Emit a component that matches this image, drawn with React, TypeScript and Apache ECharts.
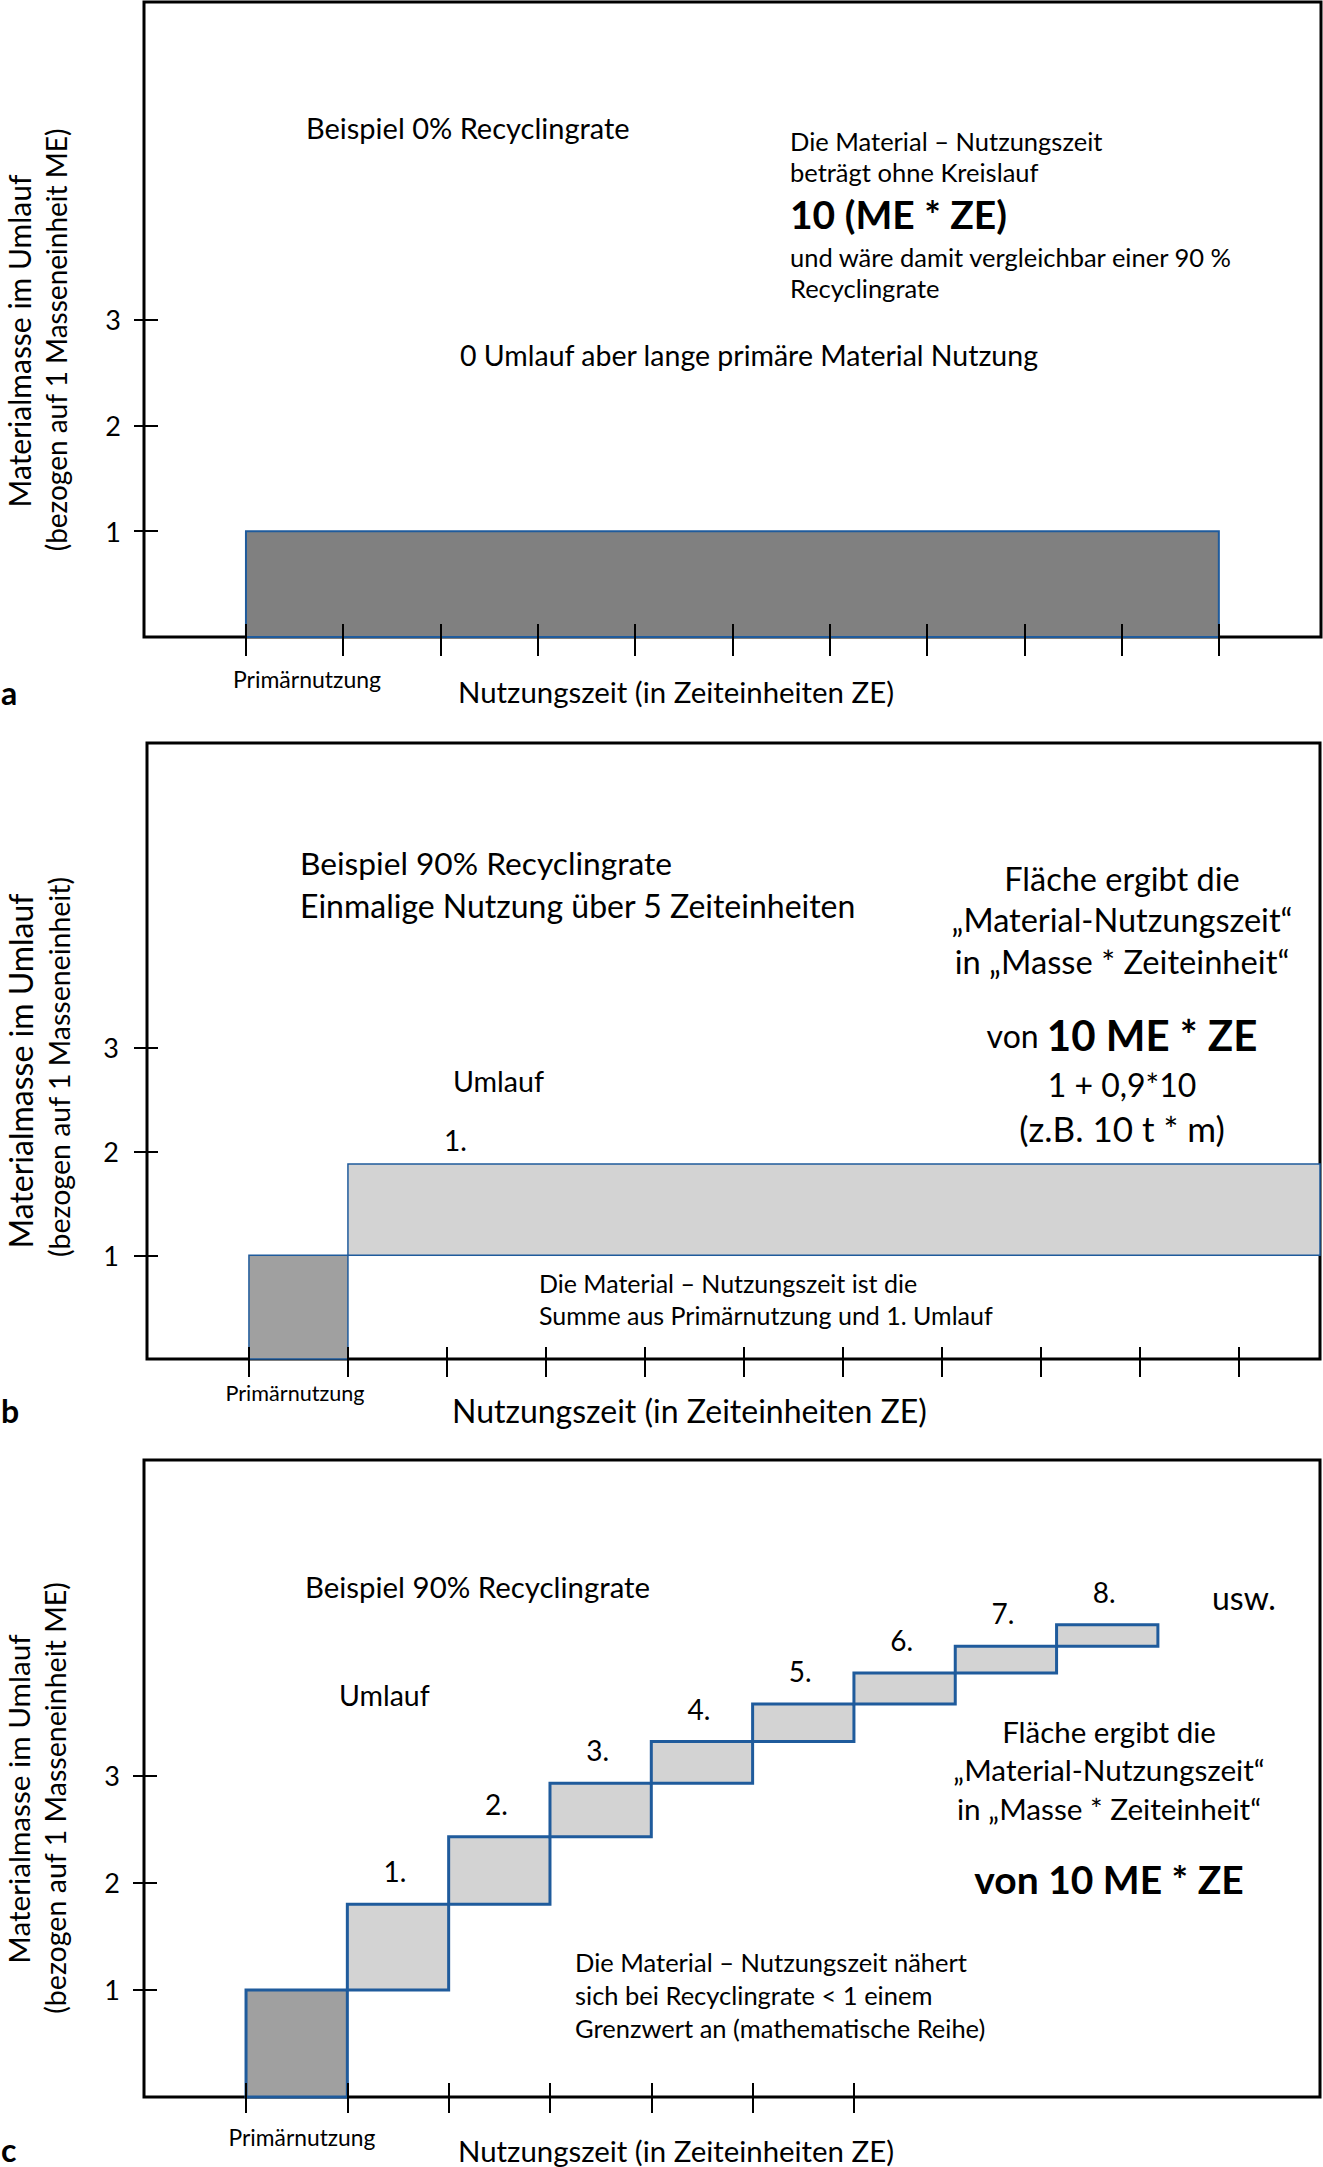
import React, { useEffect, useRef } from "react";
import * as echarts from "echarts";

const FONT = 'Lato, "Open Sans", sans-serif';

// ---------- data ----------
const yTickValues = [1, 2, 3];
const aTickValues = [0, 1, 2, 3, 4, 5, 6, 7, 8, 9, 10];
const bTickValues = [0, 1, 2, 3, 4, 5, 6, 7, 8, 9, 10];
const cTickValues = [0, 1, 2, 3, 4, 5, 6];

// [xStart, xEnd, yBottom, yTop]
const aPrimary = [[0, 10, 0, 1]];
const bPrimary = [[0, 1, 0, 1]];
const bCycle = [[1, 11, 1, 1.88]];

const cStarts = [0, 1, 2, 3, 4, 5, 6, 7, 8];
const cLevels = [0, 1.0, 1.8, 2.43, 2.93, 3.32, 3.67, 3.96, 4.21, 4.41];
const cCycleLabels = ["1.", "2.", "3.", "4.", "5.", "6.", "7.", "8."];
const cWidth = 1;

const cPrimary = [[cStarts[0], cStarts[0] + cWidth, cLevels[0], cLevels[1]]];
const cCycles = cStarts.slice(1).map((s, i) => [s, s + cWidth, cLevels[i + 1], cLevels[i + 2]]);

// ---------- styles ----------
const BLUE = "#1f5b9c";
const DARK_A = "#808080";
const DARK_BC = "#a0a0a0";
const LIGHT = "#d3d3d3";

const rectRenderer =
  (fill: string, stroke: string, lineWidth: number, labels?: string[], labelSize?: number) =>
  (params: any, api: any) => {
    const x0 = api.value(0), x1 = api.value(1), y0 = api.value(2), y1 = api.value(3);
    const pBL = api.coord([x0, y0]);
    const pTR = api.coord([x1, y1]);
    const cs = params.coordSys;
    const shape = echarts.graphic.clipRectByRect(
      { x: pBL[0], y: pTR[1], width: pTR[0] - pBL[0], height: pBL[1] - pTR[1] },
      { x: cs.x, y: cs.y, width: cs.width, height: cs.height }
    );
    if (!shape) return;
    const children: any[] = [{ type: "rect", shape, style: { fill, stroke, lineWidth } }];
    if (labels) {
      children.push({
        type: "text",
        x: (pBL[0] + pTR[0]) / 2 - 3,
        y: pTR[1] - 33,
        style: {
          text: labels[params.dataIndex],
          fontSize: labelSize,
          fontFamily: FONT,
          fill: "#000",
          align: "center",
          verticalAlign: "middle",
          textAlign: "center",
          textVerticalAlign: "middle",
        },
      });
    }
    return { type: "group", children };
  };

const txt = (x: number, y: number, text: string, size: number, o: any = {}) => ({
  type: "text",
  x,
  y,
  rotation: o.rot || 0,
  style: {
    text,
    fontSize: size,
    fontFamily: FONT,
    fontWeight: o.bold ? "bold" : "normal",
    fill: "#000",
    align: o.align || "left",
    verticalAlign: "middle",
    textAlign: o.align || "left",
    textVerticalAlign: "middle",
    rich: o.rich,
  },
});

const gridStyle = { show: true, borderColor: "#000", borderWidth: 3, backgroundColor: "rgba(0,0,0,0)" };

const xAxisBase = (gridIndex: number, min: number, max: number, ticks: number[], offset: number, len: number) => ({
  type: "value",
  gridIndex,
  min,
  max,
  offset,
  z: 6,
  axisLine: { show: false, onZero: false },
  splitLine: { show: false },
  axisLabel: { show: false },
  axisTick: { show: true, customValues: ticks, length: len, lineStyle: { color: "#000", width: 2 } },
});

const yAxisBase = (gridIndex: number, max: number, offset: number, margin: number) => ({
  type: "value",
  gridIndex,
  min: 0,
  max,
  offset,
  z: 6,
  axisLine: { show: false, onZero: false },
  splitLine: { show: false },
  axisTick: { show: true, customValues: yTickValues, length: 24, lineStyle: { color: "#000", width: 2 } },
  axisLabel: { show: true, customValues: yTickValues, margin, fontSize: 27, color: "#000", fontFamily: FONT },
});

const customSeries = (idx: number, data: number[][], render: any) => ({
  type: "custom",
  xAxisIndex: idx,
  yAxisIndex: idx,
  data,
  encode: { x: [0, 1], y: [2, 3] },
  renderItem: render,
  z: 3,
});

export default function App() {
  const ref = useRef<HTMLDivElement>(null);
  useEffect(() => {
    if (!ref.current) return;
    const chart = echarts.init(ref.current, undefined, { renderer: "svg" });
    const option: any = {
      animation: false,
      backgroundColor: "#fff",
      grid: [
        { ...gridStyle, left: 144, top: 2, width: 1177, height: 635 },
        { ...gridStyle, left: 147, top: 743, width: 1173, height: 616 },
        { ...gridStyle, left: 144, top: 1460, width: 1176, height: 637 },
      ],
      xAxis: [
        xAxisBase(0, -1.048, 11.05, aTickValues, -13, 32),
        xAxisBase(1, -1.03, 10.82, bTickValues, -12, 30),
        xAxisBase(2, -1.007, 10.6, cTickValues, -14, 30),
      ],
      yAxis: [yAxisBase(0, 6, -14, 37), yAxisBase(1, 5.94, -11, 39), yAxisBase(2, 5.95, -13, 37)],
      series: [
        customSeries(0, aPrimary, rectRenderer(DARK_A, BLUE, 2)),
        customSeries(1, bPrimary, rectRenderer(DARK_BC, BLUE, 1.5)),
        customSeries(1, bCycle, rectRenderer(LIGHT, BLUE, 1.5)),
        customSeries(2, cPrimary, rectRenderer(DARK_BC, BLUE, 3)),
        customSeries(2, cCycles, rectRenderer(LIGHT, BLUE, 3, cCycleLabels, 28)),
      ],
      graphic: {
        elements: [
          // ----- panel a -----
          txt(19, 341, "Materialmasse im Umlauf", 30, { rot: Math.PI / 2, align: "center" }),
          txt(56, 340, "(bezogen auf 1 Masseneinheit ME)", 28, { rot: Math.PI / 2, align: "center" }),
          txt(306, 127, "Beispiel 0% Recyclingrate", 29),
          txt(790, 141, "Die Material – Nutzungszeit", 25.5),
          txt(790, 172, "beträgt ohne Kreislauf", 25.5),
          txt(790, 214, "10 (ME * ZE)", 39, { bold: true }),
          txt(790, 257, "und wäre damit vergleichbar einer 90 %", 25.5),
          txt(790, 288, "Recyclingrate", 25.5),
          txt(460, 355, "0 Umlauf aber lange primäre Material Nutzung", 28.5),
          txt(307, 679, "Primärnutzung", 23, { align: "center" }),
          txt(458, 691, "Nutzungszeit (in Zeiteinheiten ZE)", 29.4),
          txt(1, 692, "a", 32, { bold: true }),
          // ----- panel b -----
          txt(20, 1071, "Materialmasse im Umlauf", 32, { rot: Math.PI / 2, align: "center" }),
          txt(59, 1067, "(bezogen auf 1 Masseneinheit)", 28.5, { rot: Math.PI / 2, align: "center" }),
          txt(300, 863, "Beispiel 90% Recyclingrate", 31.7),
          txt(300, 905, "Einmalige Nutzung über 5 Zeiteinheiten", 32),
          txt(1122, 878, "Fläche ergibt die", 32.5, { align: "center" }),
          txt(1122, 919, "„Material-Nutzungszeit“", 32.5, { align: "center" }),
          txt(1122, 961, "in „Masse * Zeiteinheit“", 32.7, { align: "center" }),
          txt(1122, 1035, "{n|von }{b|10 ME * ZE}", 32, {
            align: "center",
            rich: {
              n: { fontSize: 32, fontFamily: FONT, fill: "#000" },
              b: { fontSize: 42, fontFamily: FONT, fontWeight: "bold", fill: "#000" },
            },
          }),
          txt(1122, 1084, "1 + 0,9*10", 32, { align: "center" }),
          txt(1122, 1128, "(z.B. 10 t * m)", 35, { align: "center" }),
          txt(453, 1081, "Umlauf", 28.6),
          txt(444, 1140, "1.", 28),
          txt(539, 1283, "Die Material – Nutzungszeit ist die", 25),
          txt(539, 1315, "Summe aus Primärnutzung und 1. Umlauf", 25),
          txt(295, 1393, "Primärnutzung", 21.6, { align: "center" }),
          txt(452, 1410, "Nutzungszeit (in Zeiteinheiten ZE)", 32),
          txt(1, 1410, "b", 32, { bold: true }),
          // ----- panel c -----
          txt(18, 1799, "Materialmasse im Umlauf", 29.7, { rot: Math.PI / 2, align: "center" }),
          txt(55, 1798, "(bezogen auf 1 Masseneinheit ME)", 28.6, { rot: Math.PI / 2, align: "center" }),
          txt(305, 1586, "Beispiel 90% Recyclingrate", 29.4),
          txt(339, 1695, "Umlauf", 28.5),
          txt(1212, 1597, "usw.", 32),
          txt(1109, 1731, "Fläche ergibt die", 29.5, { align: "center" }),
          txt(1109, 1769, "„Material-Nutzungszeit“", 29.7, { align: "center" }),
          txt(1109, 1808, "in „Masse * Zeiteinheit“", 29.7, { align: "center" }),
          txt(1109, 1879, "von 10 ME * ZE", 39, { align: "center", bold: true }),
          txt(575, 1962, "Die Material – Nutzungszeit nähert", 25.5),
          txt(575, 1995, "sich bei Recyclingrate < 1 einem", 25.5),
          txt(575, 2028, "Grenzwert an (mathematische Reihe)", 25.5),
          txt(302, 2137, "Primärnutzung", 22.8, { align: "center" }),
          txt(458, 2150, "Nutzungszeit (in Zeiteinheiten ZE)", 29.4),
          txt(1, 2149, "c", 32, { bold: true }),
        ],
      },
    };
    chart.setOption(option);
    return () => chart.dispose();
  }, []);
  return (
    <div
      ref={ref}
      style={{ position: "absolute", left: 0, top: 0, width: 1323, height: 2167 }}
    />
  );
}
